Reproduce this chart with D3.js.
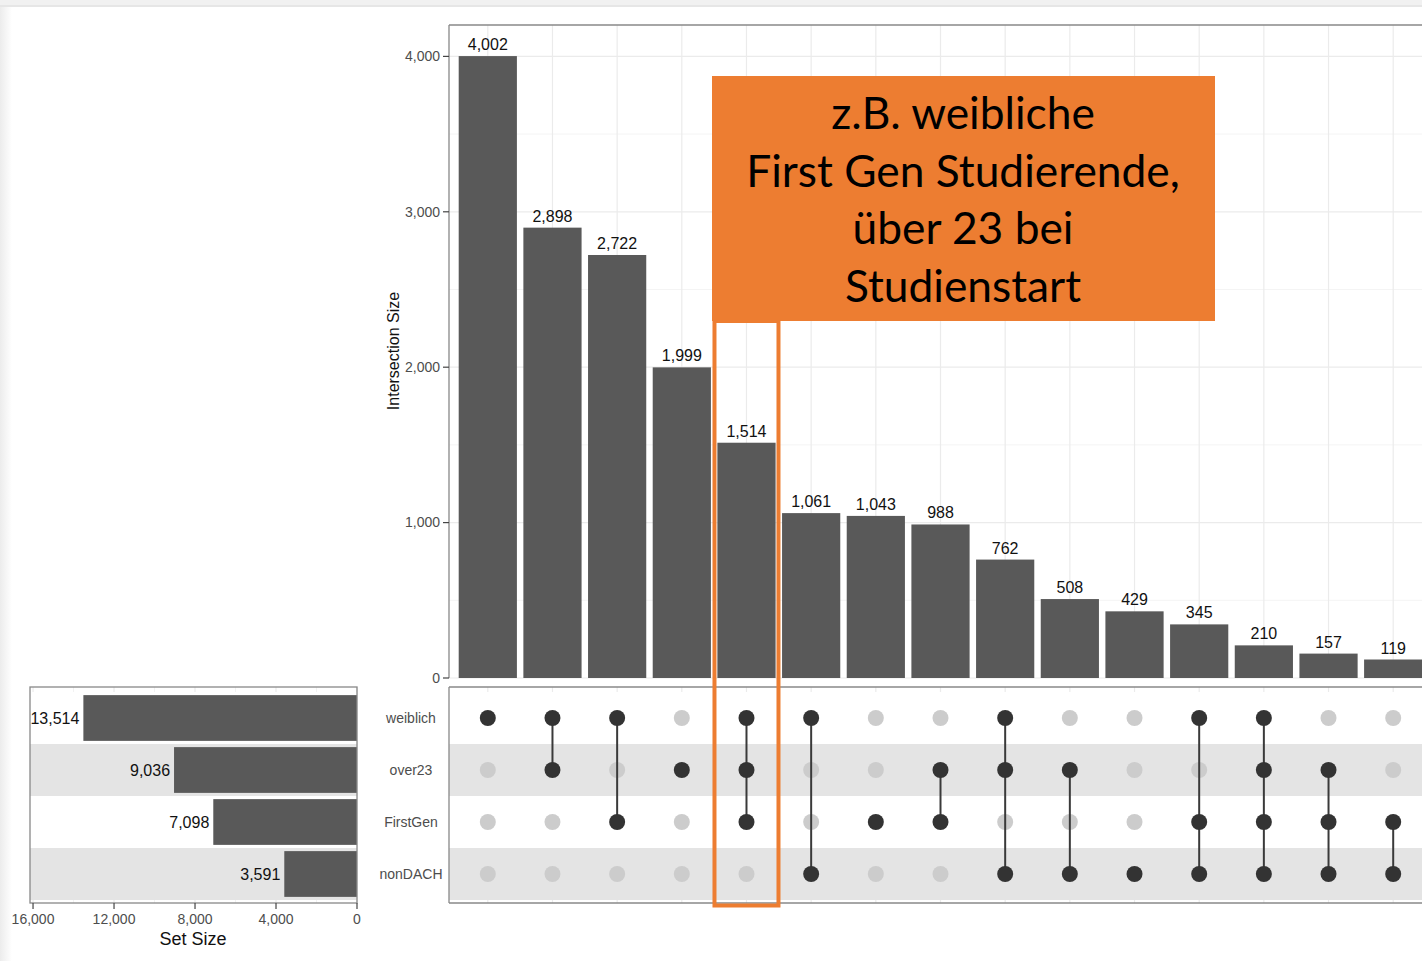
<!DOCTYPE html>
<html><head><meta charset="utf-8">
<script src="https://cdn.jsdelivr.net/npm/d3@7"></script>
<style>
html,body{margin:0;padding:0;background:#fff;}
svg{display:block;font-family:"Liberation Sans",Arial,sans-serif;}
</style></head>
<body>
<svg id="chart" width="1422" height="961"></svg>
<script>
// ---- data ----
const sets = ["weiblich", "over23", "FirstGen", "nonDACH"];
const setSizes = [13514, 9036, 7098, 3591];
const intersections = [
  ["weiblich"],
  ["weiblich", "over23"],
  ["weiblich", "FirstGen"],
  ["over23"],
  ["weiblich", "over23", "FirstGen"],
  ["weiblich", "nonDACH"],
  ["FirstGen"],
  ["over23", "FirstGen"],
  ["weiblich", "over23", "nonDACH"],
  ["over23", "nonDACH"],
  ["nonDACH"],
  ["weiblich", "FirstGen", "nonDACH"],
  ["weiblich", "over23", "FirstGen", "nonDACH"],
  ["over23", "FirstGen", "nonDACH"],
  ["FirstGen", "nonDACH"]
];
const intersectionSizes = [4002, 2898, 2722, 1999, 1514, 1061, 1043, 988, 762, 508, 429, 345, 210, 157, 119];
const sizeTicks = [0, 1000, 2000, 3000, 4000];
const sizeMinorTicks = [500, 1500, 2500, 3500];
const setSizeTicks = [16000, 12000, 8000, 4000, 0];
const setSizeMinorTicks = [14000, 10000, 6000, 2000];
const highlightIndex = 4;
const noteLines = ["z.B. weibliche", "First Gen Studierende,", "über 23 bei", "Studienstart"];

const fmt = d3.format(",");
const svg = d3.select("#chart");

// background slide frame
const defs = svg.append("defs");
const lg = defs.append("linearGradient").attr("id", "lshadow").attr("x1", 0).attr("x2", 1).attr("y1", 0).attr("y2", 0);
lg.append("stop").attr("offset", 0).attr("stop-color", "#ececec");
lg.append("stop").attr("offset", 1).attr("stop-color", "#ffffff");
svg.append("rect").attr("x", 0).attr("y", 0).attr("width", 12).attr("height", 961).attr("fill", "url(#lshadow)");
svg.append("rect").attr("x", 0).attr("y", 0).attr("width", 1422).attr("height", 5).attr("fill", "#f1f1f1");
svg.append("rect").attr("x", 0).attr("y", 5).attr("width", 1422).attr("height", 2).attr("fill", "#e6e6e6");

// ---- scales ----
const ids = intersections.map((d, i) => i);
const x = d3.scalePoint().domain(ids).range([449, 1432]).padding(0.6);
const step = x.step();
const barW = step * 0.9;
const y = d3.scaleLinear().domain([0, 4202]).range([678, 25]);
const rowY = d3.scaleBand().domain(sets).range([692, 900]).padding(0);
const sx = d3.scaleLinear().domain([0, 16150]).range([357, 30]);

const gridCol = "#ebebeb";

// ---- top panel ----
const topG = svg.append("g");
topG.selectAll("line.hminor").data(sizeMinorTicks).join("line")
  .attr("x1", 449).attr("x2", 1432).attr("y1", d => y(d)).attr("y2", d => y(d))
  .attr("stroke", "#f4f4f4").attr("stroke-width", 1);
topG.selectAll("line.hmajor").data(sizeTicks).join("line")
  .attr("x1", 449).attr("x2", 1432).attr("y1", d => y(d)).attr("y2", d => y(d))
  .attr("stroke", gridCol).attr("stroke-width", 1.2);
topG.selectAll("line.v").data(ids).join("line")
  .attr("x1", d => x(d)).attr("x2", d => x(d)).attr("y1", 25).attr("y2", 678)
  .attr("stroke", gridCol).attr("stroke-width", 1.2);
topG.selectAll("rect.bar").data(ids).join("rect")
  .attr("x", d => x(d) - barW / 2).attr("width", barW)
  .attr("y", d => y(intersectionSizes[d])).attr("height", d => y(0) - y(intersectionSizes[d]))
  .attr("fill", "#595959");
topG.selectAll("text.val").data(ids).join("text")
  .attr("x", d => x(d)).attr("y", d => y(intersectionSizes[d]) - 6)
  .attr("text-anchor", "middle").attr("font-size", 16).attr("fill", "#111")
  .text(d => fmt(intersectionSizes[d]));
// frame
topG.append("line").attr("x1", 449).attr("x2", 1432).attr("y1", 25).attr("y2", 25).attr("stroke", "#888").attr("stroke-width", 1.3);
topG.append("line").attr("x1", 449).attr("x2", 449).attr("y1", 25).attr("y2", 678).attr("stroke", "#888").attr("stroke-width", 1.3);
// y axis ticks
topG.selectAll("line.tick").data(sizeTicks).join("line")
  .attr("x1", 443).attr("x2", 449).attr("y1", d => y(d)).attr("y2", d => y(d))
  .attr("stroke", "#444").attr("stroke-width", 1.2);
topG.selectAll("text.tick").data(sizeTicks).join("text")
  .attr("x", 440).attr("y", d => y(d)).attr("dy", "0.35em")
  .attr("text-anchor", "end").attr("font-size", 14).attr("fill", "#4d4d4d")
  .text(d => fmt(d));
svg.append("text").attr("transform", "translate(399,351) rotate(-90)")
  .attr("text-anchor", "middle").attr("font-size", 16).attr("fill", "#111")
  .text("Intersection Size");

// ---- matrix panel ----
const mat = svg.append("g");
mat.selectAll("line.v").data(ids).join("line")
  .attr("x1", d => x(d)).attr("x2", d => x(d)).attr("y1", 687).attr("y2", 903)
  .attr("stroke", gridCol).attr("stroke-width", 1.2);
mat.selectAll("rect.row").data(sets).join("rect")
  .attr("x", 449).attr("width", 1432 - 449)
  .attr("y", d => rowY(d)).attr("height", rowY.bandwidth())
  .attr("fill", (d, i) => i % 2 ? "#e4e4e4" : "#ffffff");
mat.append("line").attr("x1", 449).attr("x2", 1432).attr("y1", 687).attr("y2", 687).attr("stroke", "#888").attr("stroke-width", 1.3);
mat.append("line").attr("x1", 449).attr("x2", 1432).attr("y1", 903).attr("y2", 903).attr("stroke", "#888").attr("stroke-width", 1.3);
mat.append("line").attr("x1", 449).attr("x2", 449).attr("y1", 687).attr("y2", 903).attr("stroke", "#888").attr("stroke-width", 1.3);
const cy = s => rowY(s) + rowY.bandwidth() / 2;
const cells = [];
ids.forEach(i => sets.forEach(s => cells.push({i, s, on: intersections[i].includes(s)})));
mat.selectAll("circle.off").data(cells.filter(c => !c.on)).join("circle")
  .attr("cx", c => x(c.i)).attr("cy", c => cy(c.s)).attr("r", 8).attr("fill", "#cccccc");
mat.selectAll("line.conn").data(ids.filter(i => intersections[i].length > 1)).join("line")
  .attr("x1", i => x(i)).attr("x2", i => x(i))
  .attr("y1", i => d3.min(intersections[i], cy)).attr("y2", i => d3.max(intersections[i], cy))
  .attr("stroke", "#3a3a3a").attr("stroke-width", 2);
mat.selectAll("circle.on").data(cells.filter(c => c.on)).join("circle")
  .attr("cx", c => x(c.i)).attr("cy", c => cy(c.s)).attr("r", 8).attr("fill", "#333333");
svg.selectAll("text.setname").data(sets).join("text")
  .attr("x", 411).attr("y", d => cy(d)).attr("dy", "0.35em")
  .attr("text-anchor", "middle").attr("font-size", 14).attr("fill", "#4d4d4d")
  .text(d => d);

// ---- set size panel ----
const leftG = svg.append("g");
leftG.selectAll("line.vminor").data(setSizeMinorTicks).join("line")
  .attr("x1", d => sx(d)).attr("x2", d => sx(d)).attr("y1", 687).attr("y2", 903)
  .attr("stroke", "#f2f2f2").attr("stroke-width", 1);
leftG.selectAll("line.vmajor").data(setSizeTicks).join("line")
  .attr("x1", d => sx(d)).attr("x2", d => sx(d)).attr("y1", 687).attr("y2", 903)
  .attr("stroke", gridCol).attr("stroke-width", 1.2);
leftG.selectAll("rect.row").data(sets).join("rect")
  .attr("x", 30).attr("width", 357 - 30)
  .attr("y", d => rowY(d)).attr("height", rowY.bandwidth())
  .attr("fill", (d, i) => i % 2 ? "#e4e4e4" : "#ffffff");
const bh = rowY.bandwidth() * 0.88;
leftG.selectAll("rect.bar").data(sets).join("rect")
  .attr("x", (d, i) => sx(setSizes[i])).attr("width", (d, i) => sx(0) - sx(setSizes[i]))
  .attr("y", d => cy(d) - bh / 2).attr("height", bh)
  .attr("fill", "#595959");
leftG.selectAll("text.val").data(sets).join("text")
  .attr("x", (d, i) => sx(setSizes[i]) - 4).attr("y", d => cy(d)).attr("dy", "0.35em")
  .attr("text-anchor", "end").attr("font-size", 16).attr("fill", "#111")
  .text((d, i) => fmt(setSizes[i]));
leftG.append("rect").attr("x", 30).attr("y", 687).attr("width", 357 - 30).attr("height", 903 - 687)
  .attr("fill", "none").attr("stroke", "#888").attr("stroke-width", 1.3);
leftG.selectAll("line.tick").data(setSizeTicks).join("line")
  .attr("x1", d => sx(d)).attr("x2", d => sx(d)).attr("y1", 903).attr("y2", 909)
  .attr("stroke", "#444").attr("stroke-width", 1.2);
leftG.selectAll("text.tick").data(setSizeTicks).join("text")
  .attr("x", d => sx(d)).attr("y", 924)
  .attr("text-anchor", "middle").attr("font-size", 14).attr("fill", "#4d4d4d")
  .text(d => fmt(d));
svg.append("text").attr("x", 193).attr("y", 945).attr("text-anchor", "middle")
  .attr("font-size", 18).attr("fill", "#111").text("Set Size");

// ---- annotation ----
const hx = x(highlightIndex);
svg.append("rect").attr("x", hx - 32).attr("y", 321).attr("width", 64).attr("height", 584.5)
  .attr("fill", "none").attr("stroke", "#ED7D31").attr("stroke-width", 4);
svg.append("rect").attr("x", 712).attr("y", 76).attr("width", 503).attr("height", 245).attr("fill", "#ED7D31");
svg.selectAll("text.note").data(noteLines).join("text")
  .attr("x", 963).attr("y", (d, i) => 129 + i * 57.7)
  .attr("text-anchor", "middle").attr("font-size", 44.3)
  .attr("font-family", "Lato, 'Open Sans', sans-serif").attr("fill", "#000")
  .text(d => d);
</script>
</body></html>
